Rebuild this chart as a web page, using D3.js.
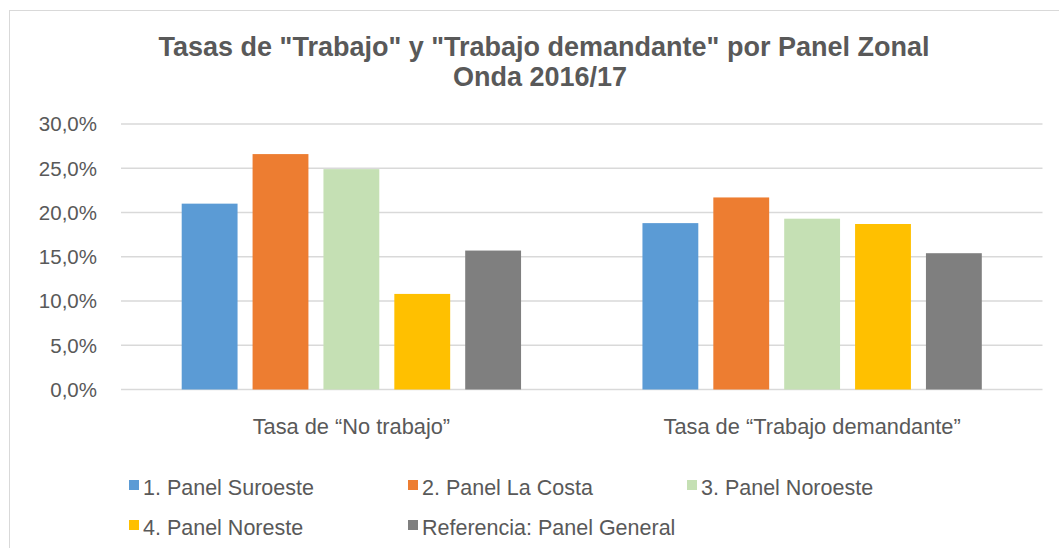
<!DOCTYPE html>
<html lang="es">
  <head>
    <meta charset="utf-8">
    <title>Tasas de Trabajo por Panel Zonal</title>
    <style>
      body { margin: 0; background: #fff; }
      svg { display: block; font-family: "Liberation Sans", Arial, sans-serif; }
    </style>
    <script src="https://d3js.org/d3.v7.min.js"></script>
  </head>
  <body>
    <script>
    const categories = ["Tasa de \u201cNo trabajo\u201d", "Tasa de \u201cTrabajo demandante\u201d"]
    const series = ["1. Panel Suroeste", "2. Panel La Costa", "3. Panel Noroeste", "4. Panel Noreste", "Referencia: Panel General"]
    const colors = ["#5b9bd5", "#ed7d31", "#c5e0b4", "#ffc000", "#7f7f7f"]
    // values in %, one list per category, same order as series
    const noTrabajo = [21.0, 26.6, 24.9, 10.8, 15.7]
    const trabajoDemandante = [18.8, 21.7, 19.3, 18.7, 15.4]
    const yTicks = [0, 5, 10, 15, 20, 25, 30]

    const values = [noTrabajo, trabajoDemandante]
    const rows = categories.map((c, i) => ({ cat: c, vals: series.map((s, j) => ({ s, v: values[i][j] })) }))

    const W = 1059, H = 548
    const plot = { left: 121, right: 1042.5, top: 124, bottom: 389.5 }
    const textColor = "#595959"

    const svg = d3.select("body").append("svg")
      .attr("width", W)
      .attr("height", H)

    // chart area border
    svg.append("rect")
      .attr("x", 9.5).attr("y", 10.5)
      .attr("width", W + 20).attr("height", H + 20)
      .attr("fill", "#fff")
      .attr("stroke", "#d9d9d9")

    const x0 = d3.scaleBand()
      .domain(categories)
      .range([plot.left, plot.right])

    const x1 = d3.scaleBand()
      .domain(series)
      .range([60.7, x0.bandwidth() - 60.7])
      .paddingInner(0.212)

    const y = d3.scaleLinear()
      .domain([0, 30])
      .range([plot.bottom, plot.top])

    // gridlines
    svg.append("g")
      .selectAll("line")
      .data(yTicks)
      .join("line")
      .attr("x1", plot.left).attr("x2", plot.right)
      .attr("y1", d => y(d)).attr("y2", d => y(d))
      .attr("stroke", "#d9d9d9")
      .attr("stroke-width", 1.3)

    // y labels
    svg.append("g")
      .selectAll("text")
      .data(yTicks)
      .join("text")
      .attr("x", 97)
      .attr("y", d => y(d))
      .attr("dy", "0.36em")
      .attr("text-anchor", "end")
      .attr("fill", textColor)
      .style("font-size", "20.5px")
      .text(d => d3.format(".1f")(d).replace(".", ",") + "%")

    // bars
    const groups = svg.append("g")
      .selectAll("g")
      .data(rows)
      .join("g")
      .attr("transform", d => `translate(${x0(d.cat)},0)`)

    groups.selectAll("rect")
      .data(d => d.vals)
      .join("rect")
      .attr("x", d => x1(d.s))
      .attr("width", x1.bandwidth())
      .attr("y", d => y(d.v))
      .attr("height", d => y(0) - y(d.v))
      .attr("fill", (d, i) => colors[i])

    // category labels
    svg.append("g")
      .selectAll("text")
      .data(categories)
      .join("text")
      .attr("x", d => x0(d) + x0.bandwidth() / 2)
      .attr("y", 434)
      .attr("text-anchor", "middle")
      .attr("fill", textColor)
      .style("font-size", "21.8px")
      .text(d => d)

    // title
    const title = svg.append("text")
      .attr("text-anchor", "middle")
      .attr("fill", textColor)
      .style("font-size", "27px")
      .style("font-weight", "bold")
    title.append("tspan").attr("x", 544).attr("y", 56)
      .text("Tasas de \"Trabajo\" y \"Trabajo demandante\" por Panel Zonal")
    title.append("tspan").attr("x", 540).attr("y", 86)
      .text("Onda 2016/17")

    // legend
    const legend = svg.append("g")
      .selectAll("g")
      .data(series)
      .join("g")
      .attr("transform", (d, i) => `translate(${129 + (i % 3) * 279},${i < 3 ? 480 : 520})`)

    legend.append("rect")
      .attr("width", 10).attr("height", 10)
      .attr("fill", (d, i) => colors[i])

    legend.append("text")
      .attr("x", 14)
      .attr("y", 14.5)
      .attr("fill", textColor)
      .style("font-size", "21.5px")
      .text(d => d)
    </script>
  </body>
</html>
